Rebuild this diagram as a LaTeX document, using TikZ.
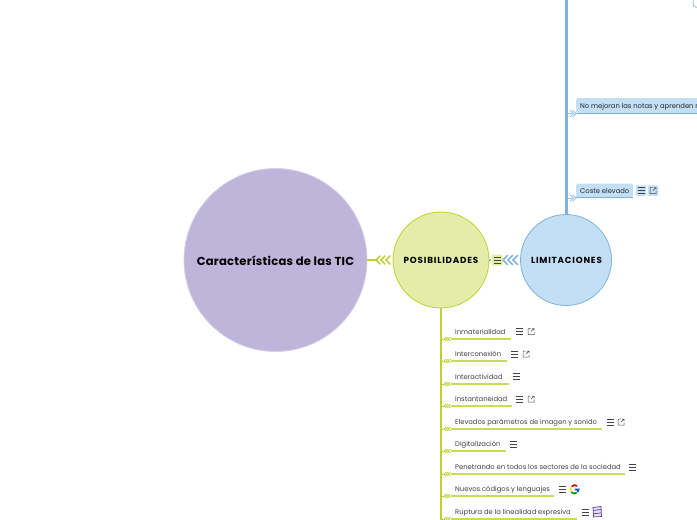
\documentclass[tikz,border=0pt]{standalone}
\usepackage{fontspec}
\setmainfont{Poppins}
\usepackage{xcolor}
\usetikzlibrary{positioning, calc}
\definecolor{mainfill}{HTML}{BFB5DA}
\definecolor{mainedge}{HTML}{D8D0E8}
\definecolor{posfill}{HTML}{E4EDA8}
\definecolor{posedge}{HTML}{BFD130}
\definecolor{limfill}{HTML}{C3DFF6}
\definecolor{limedge}{HTML}{7FB2DC}
\definecolor{icongray}{HTML}{444444}
\tikzset{
    bubble/.style={circle, draw, line width=0.8pt, inner sep=0, align=center},
    hub/.style={font=\bfseries\fontsize{8.8}{10}\selectfont\addfontfeature{LetterSpace=9}, text=black},
    itemtext/.style={anchor=base west, inner sep=0, font=\fontsize{6.8}{8}\selectfont, text=black!75},
    limtext/.style={anchor=base west, inner sep=0, font=\fontsize{6.8}{8}\selectfont, text=black!85},
    greenline/.style={posedge!80, line width=1.1pt},
    blueline/.style={limedge, line width=1pt}
}
% three-line menu glyph
\def\menuicon#1#2{%
    \draw[icongray, line width=0.55pt]
        (#1-3.5,#2-3) -- (#1+3.5,#2-3)
        (#1-3.5,#2)   -- (#1+3.5,#2)
        (#1-3.5,#2+3) -- (#1+3.5,#2+3);
}
% box with a small outgoing arrow
\def\linkicon#1#2{%
    \draw[icongray, line width=0.5pt]
        (#1-0.5,#2-3) -- (#1-3,#2-3) -- (#1-3,#2+3) -- (#1+3,#2+3) -- (#1+3,#2+0.5)
        (#1,#2) -- (#1+3,#2-3) (#1+1,#2-3) -- (#1+3,#2-3) -- (#1+3,#2-1);
}
% chevrons: tip x, y, colour, count, step, half height, width
\def\chevrons#1#2#3#4#5#6#7{%
    \foreach \k in {1,...,#4}
    {
        \draw[#3, line width=#7, line cap=round] ({#1+(\k-1)*#5+#6},#2-#6) -- ({#1+(\k-1)*#5},#2) -- ({#1+(\k-1)*#5+#6},#2+#6);
    }
}
\begin{document}
\begin{tikzpicture}[x=1pt, y=-1pt]
    \useasboundingbox (0,0) rectangle (697,520);

    % trunks
    \coordinate (postrunk) at (441,520);
    \coordinate (limtrunk) at (566.5,0);
    \draw[posedge, line width=2pt] (441,300) -- (postrunk);
    \draw[limedge, line width=2.4pt] (566.5,220) -- (limtrunk);
    \draw[limedge, line width=0.8pt] (563,214.5) -- (570,214.5);

    % hubs
    \node[bubble, draw=mainedge, fill=mainfill, minimum size=183pt] (main) at (275.5,260) {};
    \node[bubble, draw=posedge, fill=posfill, minimum size=96pt] (pos) at (441,260) {};
    \node[bubble, draw=limedge, fill=limfill, minimum size=91pt] (lim) at (566,260) {};
    \node[font=\bfseries\fontsize{11.6}{14}\selectfont\addfontfeature{LetterSpace=2}] (maintext) at (275.5,260.7) {Características de las TIC};
    \node[hub] (postext) at (441,260.7) {POSIBILIDADES};
    \node[hub] (limtext) at (566.5,260.7) {LIMITACIONES};

    % links between hubs
    \draw[posedge, line width=2pt] (main.east) -- (378,260);
    \draw[limedge, line width=1.4pt] (pos.east) -- (491,260);
    \chevrons{376}{260}{posedge}{3}{5}{4}{1.6pt}
    \chevrons{503}{260}{limedge}{3}{5}{4.5}{1.6pt}
    \node[fill=posfill, rounded corners=1pt, minimum width=11pt, minimum height=11pt, inner sep=0] (posmenu) at (497,260) {};
    \menuicon{497}{260}

    % items below posibilidades
    \foreach \i/\name/\y/\xe in {
        1/Inmaterialidad/339/511,
        2/Interconexión/361/507,
        3/Interactividad/384/508.5,
        4/Instantaneidad/406/511.5,
        5/Elevados parámetros de imagen y sonido/429/602,
        6/Digitalización/451/506,
        7/Penetrando en todos los sectores de la sociedad/474/625,
        8/Nuevos códigos y lenguajes/496/554,
        9/Ruptura de la linealidad expresiva/519/577}
    {
        \node[itemtext] (item\i) at (455,\y-4.8) {\name};
        \coordinate (start\i) at (451,\y);
        \coordinate (end\i) at (\xe,\y);
        \draw[greenline] (start\i) -- (end\i);
        \draw[posedge, line width=0.8pt] (441,\y) -- (444,\y);
        \chevrons{444}{\y}{posedge}{3}{2.2}{1.8}{0.9pt}
    }

    % icons of the items
    \menuicon{519}{331.5}   \linkicon{531}{331.5}
    \menuicon{514.5}{354}   \linkicon{526}{354}
    \menuicon{516}{376.5}
    \menuicon{519}{399}     \linkicon{531}{399}
    \menuicon{610}{422}     \linkicon{621}{422}
    \menuicon{513}{444.5}
    \menuicon{632}{467}
    \menuicon{562}{489.5}
    \menuicon{585}{512}

    % google mark
    \draw[red!85!black, line width=1.6pt] (577.2,486) arc (-50:-140:4);
    \draw[yellow!80!orange, line width=1.6pt] (570.9,487.5) arc (-150:-210:4);
    \draw[green!60!black, line width=1.6pt] (571.2,492.1) arc (140:50:4);
    \draw[blue!70!cyan, line width=1.6pt] (577.6,492.1) arc (40:0:4) -- (574.8,489.5);

    % picture thumbnail
    \draw[blue!50!black!70, line width=0.7pt, fill=violet!15]
        (593,507.5) -- (601,506.5) -- (601.5,516.5) -- (593.5,517) -- cycle
        (593,510.5) -- (601,509.5) (593.3,513.7) -- (601.3,513);

    % items above limitaciones
    \node[fill=limfill, rounded corners=1.5pt, minimum height=15pt, minimum width=130pt, anchor=north west, inner sep=0] (notasbox) at (576,98) {};
    \node[limtext] (notas) at (580,108) {No mejoran las notas y aprenden m};
    \node[fill=limfill, rounded corners=1.5pt, minimum height=14pt, minimum width=57pt, anchor=north west, inner sep=0] (costebox) at (576,183.5) {};
    \node[limtext] (coste) at (580,193) {Coste elevado};
    \draw[blueline] (notasbox.south west) -- (notasbox.south east);
    \draw[blueline] (costebox.south west) -- (costebox.south east);
    \draw[limedge!80, line width=0.8pt] (566.5,113.5) -- (572,113.5);
    \draw[limedge!80, line width=0.8pt] (566.5,198) -- (572,198);
    \chevrons{576}{113.5}{limedge!80}{2}{-2.5}{-3}{0.8pt}
    \chevrons{576}{198}{limedge!80}{2}{-2.5}{-3}{0.8pt}
    \node[fill=limfill, rounded corners=1pt, minimum size=10.5pt, inner sep=0] (costemenu) at (641,190.5) {};
    \node[fill=limfill, rounded corners=1pt, minimum size=10.5pt, inner sep=0] (costelink) at (653,190.5) {};
    \menuicon{641}{190.5}
    \linkicon{653}{190.5}

    % cut off branch in the corner
    \draw[limedge!70, line width=1pt] (693,0) -- (693,3) .. controls (693,6) and (694,7) .. (697,7.5);
\end{tikzpicture}
\end{document}
